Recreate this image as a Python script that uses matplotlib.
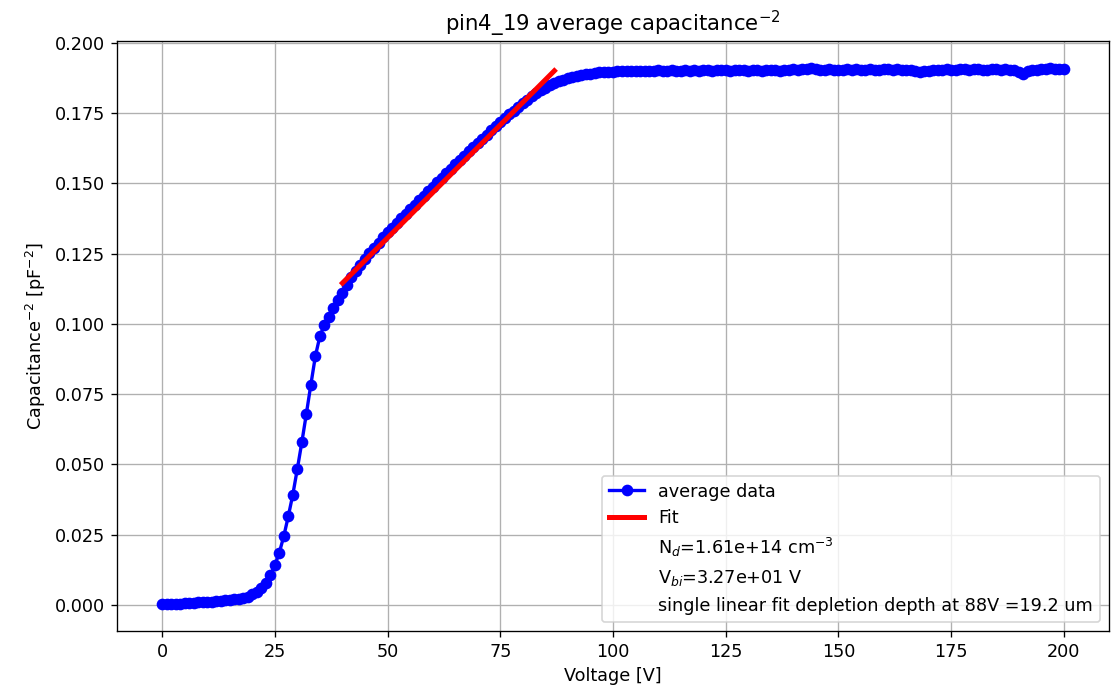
import matplotlib
matplotlib.use("Agg")
import matplotlib.pyplot as plt
import numpy as np

voltage = list(range(0, 201))

cap_m2 = [
    # 0-24
    0.0003, 0.0003, 0.0004, 0.0005, 0.0005, 0.0006, 0.0007, 0.0008, 0.0009, 0.0010,
    0.0011, 0.0012, 0.0014, 0.0015, 0.0017, 0.0018, 0.0020, 0.0022, 0.0025, 0.0030,
    0.0038, 0.0048, 0.0062, 0.0080, 0.0106,
    # 25-40
    0.0141, 0.0186, 0.0245, 0.0316, 0.0393, 0.0484, 0.0579, 0.0680, 0.0784, 0.0885,
    0.0956, 0.0997, 0.1025, 0.1055, 0.1085, 0.1110,
    # 41-60
    0.1139, 0.1165, 0.1189, 0.1211, 0.1232, 0.1252, 0.1271, 0.1289, 0.1308, 0.1325,
    0.1342, 0.1359, 0.1375, 0.1392, 0.1408, 0.1424, 0.1440, 0.1456, 0.1472, 0.1488,
    # 61-80
    0.1503, 0.1519, 0.1535, 0.1550, 0.1567, 0.1582, 0.1598, 0.1613, 0.1628, 0.1643,
    0.1658, 0.1673, 0.1688, 0.1703, 0.1717, 0.1731, 0.1745, 0.1758, 0.1771, 0.1785,
    # 81-100
    0.1797, 0.1809, 0.1821, 0.1831, 0.1840, 0.1848, 0.1855, 0.1862, 0.1868, 0.1873,
    0.1877, 0.1881, 0.1885, 0.1888, 0.1890, 0.1892, 0.1894, 0.1895, 0.1896, 0.1897,
    # 101-200
    0.1898, 0.1899, 0.1899, 0.1900, 0.1899, 0.1900, 0.1901, 0.1900, 0.1901, 0.1902,
    0.1900, 0.1901, 0.1902, 0.1901, 0.1900, 0.1902, 0.1901, 0.1903, 0.1901, 0.1902,
    0.1903, 0.1901, 0.1902, 0.1904, 0.1902, 0.1901, 0.1903, 0.1902, 0.1904, 0.1901,
    0.1903, 0.1902, 0.1901, 0.1903, 0.1904, 0.1902, 0.1901, 0.1903, 0.1904, 0.1905,
    0.1903, 0.1906, 0.1908, 0.1910, 0.1907, 0.1904, 0.1903, 0.1905, 0.1903, 0.1904,
    0.1902, 0.1905, 0.1903, 0.1907, 0.1904, 0.1903, 0.1906, 0.1904, 0.1903, 0.1905,
    0.1906, 0.1904, 0.1905, 0.1903, 0.1904, 0.1902, 0.1898, 0.1895, 0.1899, 0.1901,
    0.1903, 0.1902, 0.1904, 0.1905, 0.1903, 0.1904, 0.1906, 0.1905, 0.1904, 0.1906,
    0.1905, 0.1903, 0.1904, 0.1906, 0.1905, 0.1903, 0.1905, 0.1904, 0.1902, 0.1896,
    0.1888, 0.1898, 0.1902, 0.1903, 0.1905, 0.1907, 0.1909, 0.1906, 0.1905, 0.1908,
]

fit_v = [40, 87]
fit_c = [0.1145, 0.1900]

info_labels = [
    r"N$_d$=1.61e+14 cm$^{-3}$",
    r"V$_{bi}$=3.27e+01 V",
    "single linear fit depletion depth at 88V =19.2 um",
]

plt.rcParams["font.size"] = 10.6

fig = plt.figure(figsize=(1114 / 120, 686 / 120), dpi=120)
ax = fig.add_axes([0.105, 0.0802, 0.8905, 0.8598])

ax.plot(voltage, cap_m2, "o-", color="blue", lw=2, markersize=6, label="average data")
ax.plot(fit_v, fit_c, "-", color="red", lw=3, label="Fit")
for lab in info_labels:
    ax.plot([], [], " ", label=lab)

ax.set_title(r"pin4_19 average capacitance$^{-2}$")
ax.set_xlabel("Voltage [V]")
ax.set_ylabel(r"Capacitance$^{-2}$ [pF$^{-2}$]")
ax.grid(True)
ax.legend(loc="lower right")

fig.savefig("out.png", dpi=120)
